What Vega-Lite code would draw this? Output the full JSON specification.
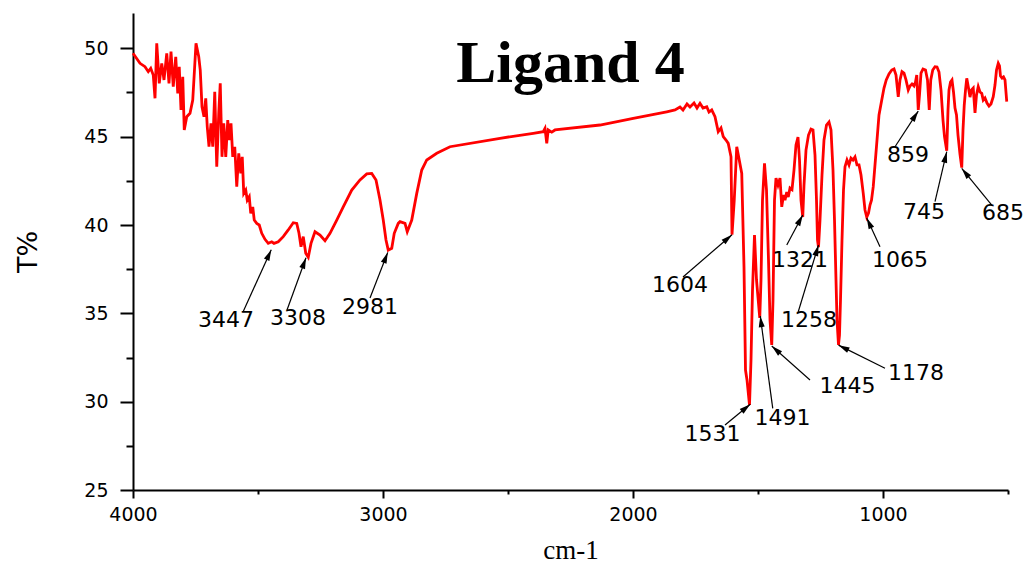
{
  "$schema": "https://vega.github.io/schema/vega-lite/v6.json",
  "width": 875,
  "height": 477,
  "autosize": {"type": "none"},
  "padding": {"left": 133, "top": 13, "right": 25, "bottom": 74},
  "background": "white",
  "config": {"view": {"stroke": null}},
  "title": {
    "text": "Ligand 4",
    "font": "Liberation Serif",
    "fontSize": 60,
    "fontWeight": "bold",
    "color": "black",
    "anchor": "middle",
    "frame": "group",
    "baseline": "alphabetic",
    "offset": -129
  },
  "datasets": {
    "spectrum": [
      {"wn": 4000, "t": 49.72}, {"wn": 3972, "t": 49.15}, {"wn": 3952, "t": 48.96}, {"wn": 3939, "t": 48.68},
      {"wn": 3929, "t": 48.87}, {"wn": 3919, "t": 48.49}, {"wn": 3912, "t": 47.17}, {"wn": 3905, "t": 50.28},
      {"wn": 3895, "t": 48.02}, {"wn": 3885, "t": 49.15}, {"wn": 3876, "t": 48.21}, {"wn": 3865, "t": 49.72},
      {"wn": 3856, "t": 48.02}, {"wn": 3848, "t": 49.81}, {"wn": 3839, "t": 47.83}, {"wn": 3829, "t": 49.52},
      {"wn": 3821, "t": 47.45}, {"wn": 3815, "t": 48.96}, {"wn": 3808, "t": 46.51}, {"wn": 3801, "t": 48.39},
      {"wn": 3795, "t": 45.38}, {"wn": 3785, "t": 46.13}, {"wn": 3772, "t": 46.32}, {"wn": 3761, "t": 47.07},
      {"wn": 3748, "t": 50.28}, {"wn": 3737, "t": 49.52}, {"wn": 3731, "t": 48.77}, {"wn": 3724, "t": 46.69},
      {"wn": 3716, "t": 46.13}, {"wn": 3709, "t": 47.17}, {"wn": 3703, "t": 45.56}, {"wn": 3696, "t": 44.43},
      {"wn": 3688, "t": 45.75}, {"wn": 3681, "t": 44.43}, {"wn": 3673, "t": 47.54}, {"wn": 3665, "t": 43.3},
      {"wn": 3657, "t": 46.32}, {"wn": 3651, "t": 48.02}, {"wn": 3644, "t": 43.86}, {"wn": 3637, "t": 45.75},
      {"wn": 3629, "t": 43.86}, {"wn": 3621, "t": 45.94}, {"wn": 3615, "t": 44.81}, {"wn": 3608, "t": 45.75},
      {"wn": 3601, "t": 43.86}, {"wn": 3593, "t": 44.43}, {"wn": 3585, "t": 42.17}, {"wn": 3577, "t": 44.06},
      {"wn": 3569, "t": 42.92}, {"wn": 3563, "t": 43.86}, {"wn": 3557, "t": 41.79}, {"wn": 3549, "t": 41.98},
      {"wn": 3543, "t": 41.41}, {"wn": 3535, "t": 41.6}, {"wn": 3529, "t": 40.66}, {"wn": 3521, "t": 41.03},
      {"wn": 3515, "t": 40.28}, {"wn": 3505, "t": 40.09}, {"wn": 3495, "t": 40.0}, {"wn": 3485, "t": 39.53},
      {"wn": 3472, "t": 39.19}, {"wn": 3459, "t": 38.96}, {"wn": 3445, "t": 39.05}, {"wn": 3436, "t": 38.96},
      {"wn": 3419, "t": 39.05}, {"wn": 3399, "t": 39.34}, {"wn": 3379, "t": 39.72}, {"wn": 3359, "t": 40.13},
      {"wn": 3345, "t": 40.09}, {"wn": 3336, "t": 39.53}, {"wn": 3328, "t": 38.77}, {"wn": 3319, "t": 39.34},
      {"wn": 3309, "t": 38.4}, {"wn": 3299, "t": 38.17}, {"wn": 3288, "t": 38.96}, {"wn": 3272, "t": 39.62},
      {"wn": 3252, "t": 39.43}, {"wn": 3232, "t": 39.11}, {"wn": 3212, "t": 39.53}, {"wn": 3185, "t": 40.28},
      {"wn": 3159, "t": 41.03}, {"wn": 3125, "t": 41.98}, {"wn": 3092, "t": 42.55}, {"wn": 3065, "t": 42.89},
      {"wn": 3045, "t": 42.92}, {"wn": 3028, "t": 42.55}, {"wn": 3012, "t": 41.41}, {"wn": 2999, "t": 40.28},
      {"wn": 2988, "t": 39.15}, {"wn": 2979, "t": 38.58}, {"wn": 2965, "t": 38.68}, {"wn": 2955, "t": 39.53},
      {"wn": 2939, "t": 40.09}, {"wn": 2932, "t": 40.19}, {"wn": 2912, "t": 40.09}, {"wn": 2903, "t": 39.62},
      {"wn": 2885, "t": 40.28}, {"wn": 2865, "t": 41.79}, {"wn": 2845, "t": 43.11}, {"wn": 2825, "t": 43.68},
      {"wn": 2785, "t": 44.06}, {"wn": 2732, "t": 44.43}, {"wn": 2532, "t": 44.91}, {"wn": 2399, "t": 45.19},
      {"wn": 2359, "t": 45.28}, {"wn": 2352, "t": 45.47}, {"wn": 2345, "t": 44.62}, {"wn": 2339, "t": 45.38},
      {"wn": 2325, "t": 45.26}, {"wn": 2312, "t": 45.38}, {"wn": 2132, "t": 45.66}, {"wn": 1999, "t": 46.04},
      {"wn": 1865, "t": 46.41}, {"wn": 1832, "t": 46.51}, {"wn": 1812, "t": 46.68}, {"wn": 1800, "t": 46.51},
      {"wn": 1784, "t": 46.85}, {"wn": 1772, "t": 46.68}, {"wn": 1756, "t": 46.9}, {"wn": 1744, "t": 46.62},
      {"wn": 1732, "t": 46.89}, {"wn": 1720, "t": 46.62}, {"wn": 1705, "t": 46.69}, {"wn": 1696, "t": 46.39},
      {"wn": 1685, "t": 46.51}, {"wn": 1672, "t": 46.13}, {"wn": 1659, "t": 45.28}, {"wn": 1648, "t": 45.49},
      {"wn": 1639, "t": 45.0}, {"wn": 1628, "t": 44.81}, {"wn": 1619, "t": 44.62}, {"wn": 1608, "t": 43.86},
      {"wn": 1604, "t": 39.45}, {"wn": 1595, "t": 41.41}, {"wn": 1585, "t": 44.43}, {"wn": 1575, "t": 43.68},
      {"wn": 1565, "t": 42.92}, {"wn": 1556, "t": 37.64}, {"wn": 1550, "t": 31.79}, {"wn": 1544, "t": 31.23},
      {"wn": 1534, "t": 29.81}, {"wn": 1528, "t": 32.36}, {"wn": 1522, "t": 36.32}, {"wn": 1514, "t": 39.43},
      {"wn": 1506, "t": 36.89}, {"wn": 1493, "t": 34.74}, {"wn": 1488, "t": 36.89}, {"wn": 1482, "t": 41.41},
      {"wn": 1474, "t": 43.49}, {"wn": 1466, "t": 41.98}, {"wn": 1458, "t": 38.02}, {"wn": 1452, "t": 34.62},
      {"wn": 1445, "t": 33.21}, {"wn": 1440, "t": 35.75}, {"wn": 1434, "t": 41.41}, {"wn": 1428, "t": 42.66},
      {"wn": 1420, "t": 42.26}, {"wn": 1412, "t": 42.66}, {"wn": 1405, "t": 41.03}, {"wn": 1398, "t": 41.7},
      {"wn": 1392, "t": 41.41}, {"wn": 1385, "t": 41.87}, {"wn": 1379, "t": 41.58}, {"wn": 1372, "t": 42.09},
      {"wn": 1364, "t": 42.0}, {"wn": 1356, "t": 43.11}, {"wn": 1348, "t": 44.53}, {"wn": 1340, "t": 44.98},
      {"wn": 1334, "t": 43.68}, {"wn": 1328, "t": 41.41}, {"wn": 1321, "t": 40.45}, {"wn": 1316, "t": 42.26},
      {"wn": 1308, "t": 44.24}, {"wn": 1298, "t": 45.09}, {"wn": 1288, "t": 45.43}, {"wn": 1280, "t": 45.38},
      {"wn": 1272, "t": 43.96}, {"wn": 1266, "t": 41.41}, {"wn": 1262, "t": 39.15}, {"wn": 1258, "t": 38.75},
      {"wn": 1252, "t": 40.28}, {"wn": 1244, "t": 42.83}, {"wn": 1236, "t": 44.81}, {"wn": 1226, "t": 45.66},
      {"wn": 1216, "t": 45.83}, {"wn": 1208, "t": 45.38}, {"wn": 1200, "t": 43.11}, {"wn": 1194, "t": 40.28},
      {"wn": 1188, "t": 36.89}, {"wn": 1184, "t": 34.62}, {"wn": 1178, "t": 33.21}, {"wn": 1174, "t": 33.77},
      {"wn": 1170, "t": 35.75}, {"wn": 1164, "t": 39.15}, {"wn": 1158, "t": 41.98}, {"wn": 1152, "t": 43.3},
      {"wn": 1144, "t": 43.68}, {"wn": 1136, "t": 43.4}, {"wn": 1128, "t": 43.79}, {"wn": 1120, "t": 43.68},
      {"wn": 1112, "t": 43.85}, {"wn": 1104, "t": 43.4}, {"wn": 1096, "t": 43.4}, {"wn": 1088, "t": 42.83},
      {"wn": 1079, "t": 41.79}, {"wn": 1072, "t": 40.85}, {"wn": 1065, "t": 40.45}, {"wn": 1058, "t": 40.68},
      {"wn": 1052, "t": 41.13}, {"wn": 1046, "t": 41.41}, {"wn": 1039, "t": 42.17}, {"wn": 1032, "t": 43.4},
      {"wn": 1024, "t": 44.81}, {"wn": 1016, "t": 46.23}, {"wn": 1005, "t": 47.07}, {"wn": 996, "t": 47.75},
      {"wn": 987, "t": 48.21}, {"wn": 976, "t": 48.55}, {"wn": 965, "t": 48.77}, {"wn": 956, "t": 48.83},
      {"wn": 948, "t": 48.49}, {"wn": 939, "t": 47.26}, {"wn": 932, "t": 48.21}, {"wn": 924, "t": 48.68},
      {"wn": 916, "t": 48.6}, {"wn": 908, "t": 48.21}, {"wn": 899, "t": 47.64}, {"wn": 892, "t": 47.87},
      {"wn": 884, "t": 47.98}, {"wn": 876, "t": 47.87}, {"wn": 870, "t": 48.09}, {"wn": 865, "t": 48.49},
      {"wn": 859, "t": 46.51}, {"wn": 854, "t": 47.36}, {"wn": 848, "t": 48.6}, {"wn": 840, "t": 48.83},
      {"wn": 830, "t": 48.77}, {"wn": 822, "t": 48.21}, {"wn": 815, "t": 46.51}, {"wn": 809, "t": 48.21},
      {"wn": 801, "t": 48.77}, {"wn": 792, "t": 48.96}, {"wn": 784, "t": 48.94}, {"wn": 776, "t": 48.66},
      {"wn": 768, "t": 47.64}, {"wn": 760, "t": 45.94}, {"wn": 754, "t": 45.0}, {"wn": 745, "t": 44.2},
      {"wn": 740, "t": 46.5}, {"wn": 736, "t": 47.64}, {"wn": 730, "t": 48.09}, {"wn": 724, "t": 48.21},
      {"wn": 718, "t": 47.53}, {"wn": 712, "t": 46.62}, {"wn": 706, "t": 46.23}, {"wn": 700, "t": 45.09},
      {"wn": 692, "t": 44.0}, {"wn": 685, "t": 43.25}, {"wn": 680, "t": 45.38}, {"wn": 675, "t": 46.79},
      {"wn": 670, "t": 47.64}, {"wn": 665, "t": 48.3}, {"wn": 658, "t": 47.75}, {"wn": 652, "t": 47.24},
      {"wn": 646, "t": 47.64}, {"wn": 639, "t": 47.75}, {"wn": 632, "t": 46.34}, {"wn": 626, "t": 47.36},
      {"wn": 619, "t": 47.83}, {"wn": 612, "t": 47.53}, {"wn": 605, "t": 47.45}, {"wn": 599, "t": 47.07},
      {"wn": 592, "t": 47.19}, {"wn": 584, "t": 46.9}, {"wn": 576, "t": 46.73}, {"wn": 568, "t": 46.85},
      {"wn": 559, "t": 47.26}, {"wn": 552, "t": 47.92}, {"wn": 546, "t": 48.77}, {"wn": 539, "t": 49.15},
      {"wn": 534, "t": 49.0}, {"wn": 530, "t": 48.43}, {"wn": 524, "t": 48.32}, {"wn": 518, "t": 48.38},
      {"wn": 512, "t": 48.21}, {"wn": 505, "t": 46.98}
    ],
    "peaks": [
      {"peak": 3447, "tipT": 38.6, "tailW": 3560, "tailT": 35.08, "labW": 3628, "labT": 34.62},
      {"peak": 3308, "tipT": 38.15, "tailW": 3384, "tailT": 35.19, "labW": 3340, "labT": 34.74},
      {"peak": 2981, "tipT": 38.45, "tailW": 3052, "tailT": 35.87, "labW": 3052, "labT": 35.36},
      {"peak": 1604, "tipT": 39.45, "tailW": 1800, "tailT": 37.06, "labW": 1812, "labT": 36.6},
      {"peak": 1531, "tipT": 29.85, "tailW": 1632, "tailT": 28.68, "labW": 1682, "labT": 28.17},
      {"peak": 1491, "tipT": 34.85, "tailW": 1441, "tailT": 29.62, "labW": 1402, "labT": 29.08},
      {"peak": 1445, "tipT": 33.15, "tailW": 1292, "tailT": 31.23, "labW": 1142, "labT": 30.89},
      {"peak": 1321, "tipT": 40.57, "tailW": 1385, "tailT": 38.87, "labW": 1332, "labT": 38.02},
      {"peak": 1258, "tipT": 38.87, "tailW": 1339, "tailT": 35.09, "labW": 1296, "labT": 34.62},
      {"peak": 1178, "tipT": 33.2, "tailW": 992, "tailT": 31.89, "labW": 868, "labT": 31.62},
      {"peak": 1065, "tipT": 40.4, "tailW": 1012, "tailT": 38.77, "labW": 932, "labT": 38.02},
      {"peak": 859, "tipT": 46.45, "tailW": 952, "tailT": 44.43, "labW": 900, "labT": 43.96},
      {"peak": 745, "tipT": 44.15, "tailW": 792, "tailT": 41.32, "labW": 836, "labT": 40.74},
      {"peak": 685, "tipT": 43.2, "tailW": 565, "tailT": 41.13, "labW": 520, "labT": 40.68}
    ]
  },
  "layer": [
    {
      "data": {"name": "spectrum"},
      "mark": {"type": "line", "color": "#ff0000", "strokeWidth": 2.8, "interpolate": "linear"},
      "encoding": {
        "x": {
          "field": "wn",
          "type": "quantitative",
          "scale": {"domain": [500, 4000], "reverse": true, "nice": false, "zero": false},
          "axis": {
            "title": "cm-1",
            "values": [500, 1000, 1500, 2000, 2500, 3000, 3500, 4000],
            "format": "d",
            "labelExpr": "datum.value % 1000 === 0 ? datum.label : ''",
            "tickSize": {"condition": {"test": "datum.value % 1000 === 0", "value": 8}, "value": 4},
            "tickWidth": 2,
            "tickColor": "black",
            "domainColor": "black",
            "domainWidth": 2,
            "grid": false,
            "labelFont": "DejaVu Sans",
            "labelFontSize": 19,
            "labelColor": "black",
            "labelPadding": 7,
            "labelFlush": false,
            "labelOverlap": false,
            "titleFont": "Liberation Serif",
            "titleFontSize": 27,
            "titleFontWeight": "normal",
            "titleColor": "black",
            "titlePadding": 13
          }
        },
        "y": {
          "field": "t",
          "type": "quantitative",
          "scale": {"domain": [25, 52], "nice": false, "zero": false},
          "axis": {
            "title": "T%",
            "values": [25, 27.5, 30, 32.5, 35, 37.5, 40, 42.5, 45, 47.5, 50],
            "labelExpr": "datum.value % 5 === 0 ? datum.label : ''",
            "tickSize": {"condition": {"test": "datum.value % 5 === 0", "value": 13}, "value": 7},
            "tickWidth": 2,
            "tickColor": "black",
            "domainColor": "black",
            "domainWidth": 2,
            "grid": false,
            "labelFont": "DejaVu Sans",
            "labelFontSize": 19,
            "labelColor": "black",
            "labelPadding": 12,
            "labelOverlap": false,
            "labelFlush": false,
            "titleFont": "DejaVu Sans",
            "titleFontSize": 27,
            "titleFontWeight": "normal",
            "titleColor": "black",
            "titlePadding": 41
          }
        }
      }
    },
    {
      "data": {"name": "peaks"},
      "mark": {"type": "rule", "color": "black", "strokeWidth": 1.2},
      "encoding": {
        "x": {"field": "tailW", "type": "quantitative"},
        "y": {"field": "tailT", "type": "quantitative"},
        "x2": {"field": "peak"},
        "y2": {"field": "tipT"}
      }
    },
    {
      "data": {"name": "peaks"},
      "transform": [
        {"calculate": "atan2((datum.tailW - datum.peak) * 0.25, (datum.tipT - datum.tailT) * 17.667) * 180 / PI", "as": "heading"}
      ],
      "mark": {"type": "point", "shape": "M0,0L1,3.7L-1,3.7Z", "size": 36, "filled": true, "color": "black", "opacity": 1, "strokeWidth": 0},
      "encoding": {
        "x": {"field": "peak", "type": "quantitative"},
        "y": {"field": "tipT", "type": "quantitative"},
        "angle": {"field": "heading", "type": "quantitative", "scale": null}
      }
    },
    {
      "data": {"name": "peaks"},
      "mark": {"type": "text", "font": "DejaVu Sans", "fontSize": 22, "color": "black", "align": "center", "baseline": "middle"},
      "encoding": {
        "x": {"field": "labW", "type": "quantitative"},
        "y": {"field": "labT", "type": "quantitative"},
        "text": {"field": "peak", "type": "quantitative", "format": "d"}
      }
    }
  ]
}
